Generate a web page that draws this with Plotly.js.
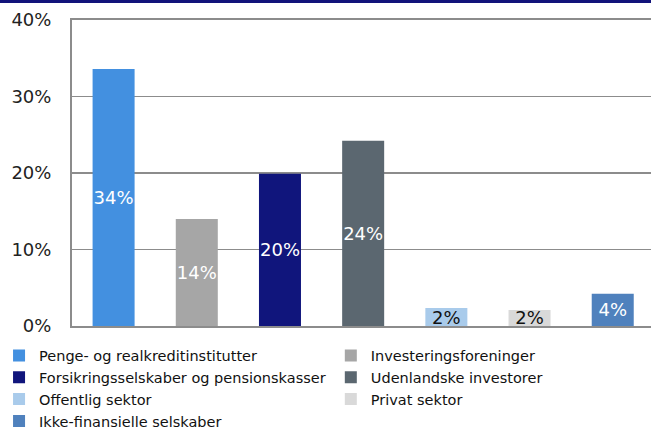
<!DOCTYPE html>
<html>
<head>
<meta charset="utf-8">
<script src="https://cdn.plot.ly/plotly-3.0.1.min.js"></script>
<style>
  html, body { margin: 0; padding: 0; background: #fff; overflow: hidden; }
  #wrap { position: relative; width: 651px; height: 431px; }
  #chart { width: 651px; height: 431px; }
  #topbar { position: absolute; left: 0; top: 0; width: 651px; height: 3px; background: #12137a; z-index: 5; }
</style>
</head>
<body>
<div id="wrap">
  <div id="topbar"></div>
  <div id="chart"></div>
</div>
<script>
// Data
const categories = [
  "Penge- og realkreditinstitutter",
  "Investeringsforeninger",
  "Forsikringsselskaber og pensionskasser",
  "Udenlandske investorer",
  "Offentlig sektor",
  "Privat sektor",
  "Ikke-finansielle selskaber"
];
const shares = [0.336, 0.140, 0.199, 0.242, 0.0235, 0.021, 0.042];
const barColors = ["#4390e0", "#a6a6a6", "#10157c", "#5b6770", "#a9cbeb", "#d9d9d9", "#4f81bd"];
const labelColors = ["#ffffff", "#ffffff", "#ffffff", "#ffffff", "#111111", "#111111", "#ffffff"];
const legendColumn = ["legend", "legend2", "legend", "legend2", "legend", "legend2", "legend"];
const yTickVals = [0, 0.1, 0.2, 0.3, 0.4];
const yTickText = ["0%", "10%", "20%", "30%", "40%"];

const FONT = "DejaVu Sans, Verdana, sans-serif";

const traces = categories.map((name, i) => ({
  type: "bar",
  name: name,
  x: [name],
  y: [shares[i]],
  width: 0.505,
  legend: legendColumn[i],
  marker: { color: barColors[i], line: { width: 0 } },
  texttemplate: "%{y:.0%}",
  textposition: "inside",
  insidetextanchor: "middle",
  constraintext: "none",
  textangle: 0,
  insidetextfont: { family: FONT, size: 18, color: labelColors[i] },
  hoverinfo: "skip",
  cliponaxis: false
}));

const legendStyle = {
  orientation: "v",
  xanchor: "left",
  yanchor: "top",
  itemwidth: 30,
  traceorder: "normal",
  font: { family: FONT, size: 14.5, color: "#111111" },
  bgcolor: "rgba(0,0,0,0)"
};

const layout = {
  width: 651,
  height: 431,
  margin: { l: 72, r: 0, t: 20, b: 105, pad: 0, autoexpand: false },
  paper_bgcolor: "#ffffff",
  plot_bgcolor: "#ffffff",
  barmode: "overlay",
  showlegend: true,
  font: { family: FONT, color: "#222222" },
  xaxis: {
    type: "category",
    categoryorder: "array",
    categoryarray: categories,
    range: [-0.5, 6.46],
    showticklabels: false,
    ticks: "",
    showgrid: false,
    zeroline: false,
    showline: true,
    mirror: true,
    linecolor: "#8c8c8c",
    linewidth: 2,
    fixedrange: true
  },
  yaxis: {
    range: [0, 0.4],
    tickvals: yTickVals,
    ticktext: yTickText,
    ticks: "",
    ticklabelstandoff: 15,
    tickfont: { family: FONT, size: 18, color: "#222222" },
    showgrid: true,
    gridcolor: "#8c8c8c",
    gridwidth: 1.5,
    zeroline: false,
    showline: true,
    linecolor: "#8c8c8c",
    linewidth: 2,
    fixedrange: true
  },
  legend: Object.assign({}, legendStyle, { x: -0.126, y: -0.044 }),
  legend2: Object.assign({}, legendStyle, { x: 0.447, y: -0.044 })
};

Plotly.newPlot("chart", traces, layout, { displayModeBar: false, staticPlot: true });
</script>
</body>
</html>
